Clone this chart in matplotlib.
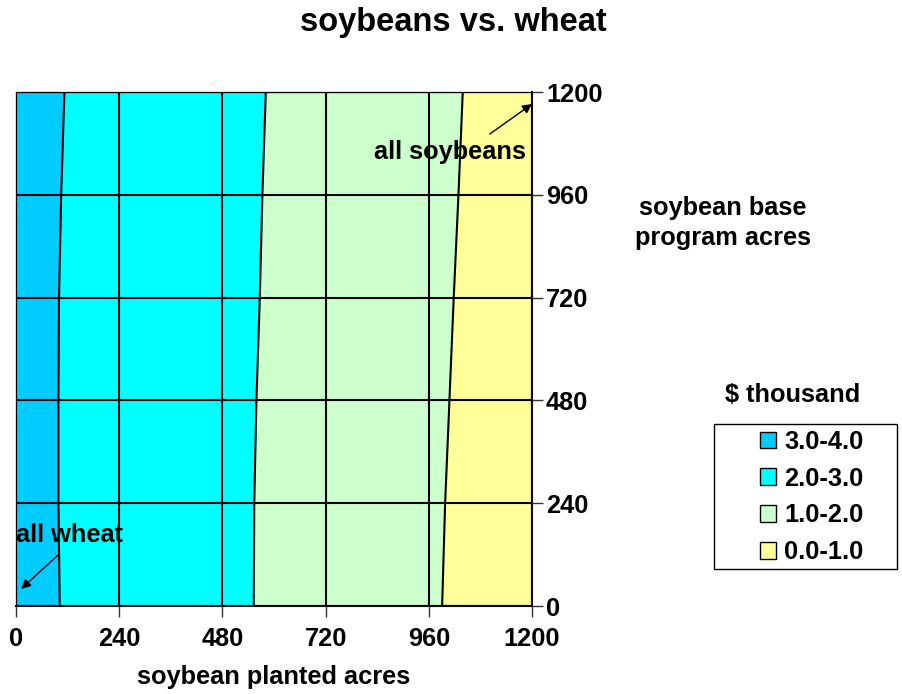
import matplotlib
matplotlib.use('Agg')
import matplotlib.pyplot as plt
from matplotlib.patches import Patch, Rectangle
import numpy as np

# ---- data -------------------------------------------------------------
planted_acres = [0, 240, 480, 720, 960, 1200]      # x
base_acres = [0, 240, 480, 720, 960, 1200]         # y
# net return, $ thousand (rows = base acres, columns = planted acres)
z_base0 = [3.25, 2.660, 2.110, 1.748, 1.10, 0.326]
z_base240 = [3.25, 2.642, 2.092, 1.794, 1.10, 0.468]
z_base480 = [3.25, 2.642, 2.092, 1.813, 1.10, 0.600]
z_base720 = [3.25, 2.650, 2.100, 1.824, 1.10, 0.686]
z_base960 = [3.25, 2.679, 2.129, 1.796, 1.10, 0.752]
z_base1200 = [3.25, 2.717, 2.167, 1.770, 1.10, 0.796]
levels = [0, 1, 2, 3, 4]
band_labels = ['0.0-1.0', '1.0-2.0', '2.0-3.0', '3.0-4.0']
band_colors = ['#FFFF99', '#CCFFCC', '#00FFFF', '#00CCFF']
tick_labels = ['0', '240', '480', '720', '960', '1200']

# ---- figure -----------------------------------------------------------
plt.rcParams['font.family'] = ['Liberation Sans', 'DejaVu Sans']
plt.rcParams['font.weight'] = 'bold'
W, H = 903, 694
FS = 18.3
fig = plt.figure(figsize=(W / 100, H / 100), dpi=100)
ax = fig.add_axes([16 / W, 1 - 606 / H, 516 / W, 514 / H])

Z = np.array([z_base0, z_base240, z_base480, z_base720, z_base960, z_base1200])
ax.contourf(planted_acres, base_acres, Z, levels=levels, colors=band_colors, zorder=1)
ax.contour(planted_acres, base_acres, Z, levels=levels[1:-1], colors='black',
           linewidths=1.5, zorder=3)

ax.set_xlim(0, 1200)
ax.set_ylim(0, 1200)
ax.set_xticks(planted_acres)
ax.set_xticklabels(tick_labels)
ax.set_yticks(base_acres)
ax.set_yticklabels(tick_labels)
ax.yaxis.tick_right()
ax.grid(True, color='black', linewidth=1.5, zorder=2)
ax.set_axisbelow(False)

for lab in ax.get_xticklabels() + ax.get_yticklabels():
    lab.set_fontsize(FS)
    lab.set_fontweight('bold')
ax.tick_params(axis='x', direction='out', length=8, width=1, color='#333333', pad=7)
ax.tick_params(axis='y', direction='out', length=8, width=1, color='#333333', pad=2)

for side in ['right', 'bottom']:
    ax.spines[side].set_color('black')
    ax.spines[side].set_linewidth(1.5)
for side in ['top', 'left']:
    ax.spines[side].set_color('#555555')
    ax.spines[side].set_linewidth(1.0)

# annotations
arrow_kw = dict(arrowstyle='-|>', color='black', lw=1.0, mutation_scale=14,
                shrinkA=0, shrinkB=0)
ax.annotate('', xy=(1200, 1172), xytext=(1102, 1102), arrowprops=arrow_kw, zorder=5)
ax.text(1009, 1060, 'all soybeans', fontsize=FS, fontweight='bold',
        ha='center', va='center', zorder=6)
ax.annotate('', xy=(12, 40), xytext=(100, 121), arrowprops=arrow_kw, zorder=5)
ax.text(125, 166, 'all wheat', fontsize=FS, fontweight='bold',
        ha='center', va='center', zorder=6)

# titles / labels
fig.text(453 / W, 1 - 22 / H, 'soybeans vs. wheat', fontsize=23.5,
         fontweight='bold', ha='center', va='center')
fig.text(274 / W, 1 - 677 / H, 'soybean planted acres', fontsize=FS,
         fontweight='bold', ha='center', va='center')
fig.text(723 / W, 1 - 223 / H, 'soybean base\nprogram acres', fontsize=FS,
         fontweight='bold', ha='center', va='center', linespacing=1.35)
fig.text(793 / W, 1 - 395 / H, '$ thousand', fontsize=FS,
         fontweight='bold', ha='center', va='center')

# legend
fig.patches.append(Rectangle((714 / W, 1 - 569 / H), 183 / W, 145 / H,
                             transform=fig.transFigure, fill=False,
                             edgecolor='black', linewidth=1.0))
handles = [Patch(facecolor=band_colors[i], edgecolor='black', linewidth=1.0,
                 label=band_labels[i]) for i in range(3, -1, -1)]
fig.legend(handles=handles, loc='upper left', bbox_to_anchor=(760 / W, 1 - 430 / H),
           frameon=False, prop={'size': FS, 'weight': 'bold'},
           handlelength=0.64, handleheight=0.64, handletextpad=0.3,
           labelspacing=0.5, borderpad=0, borderaxespad=0)

fig.savefig('out.png', dpi=100)
